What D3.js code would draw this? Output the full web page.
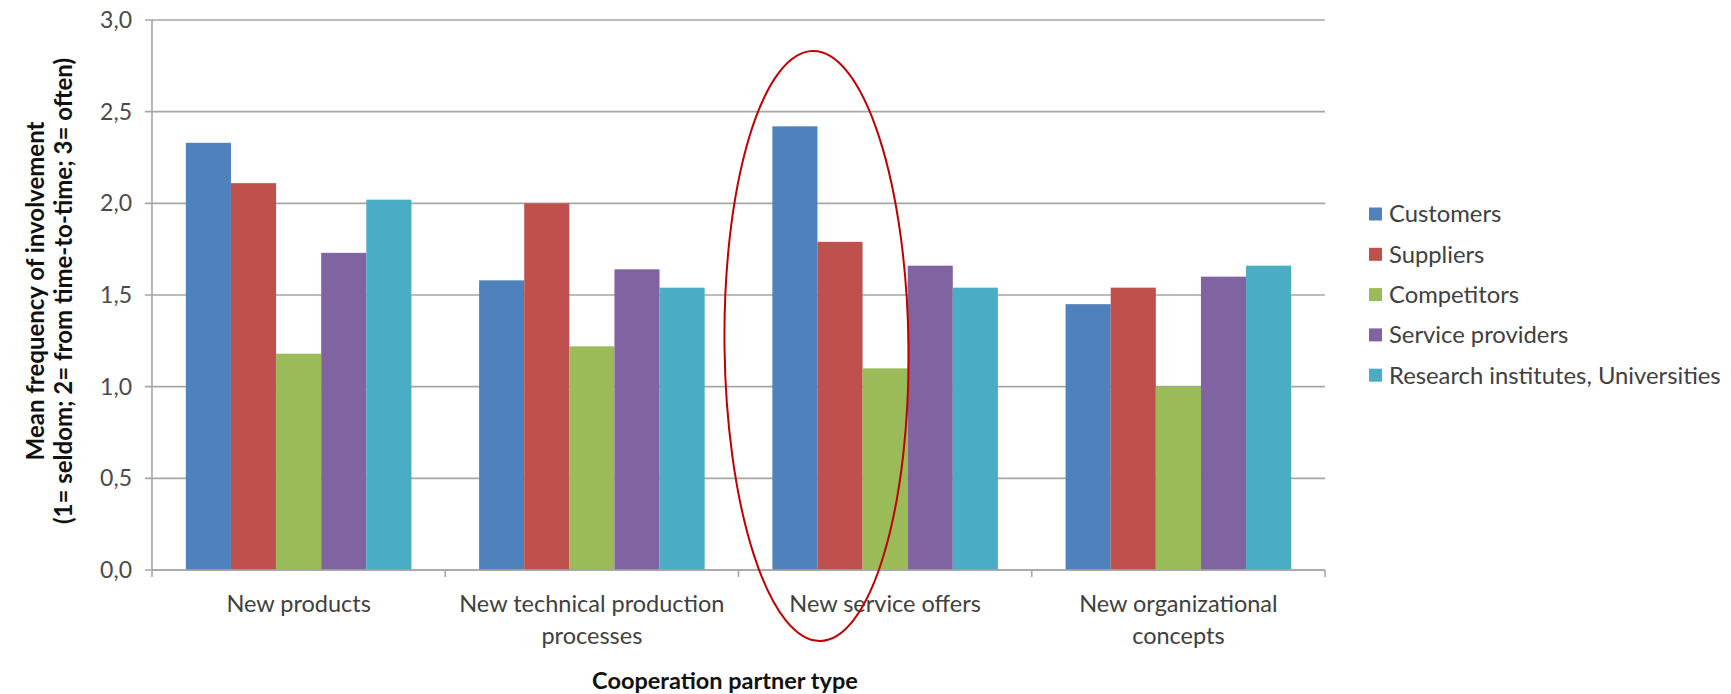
<!DOCTYPE html>
<html><head><meta charset="utf-8">
<script src="https://cdn.jsdelivr.net/npm/d3@7"></script>
<style>body{margin:0;background:#fff}svg{display:block}text{font-family:Lato,"Open Sans",sans-serif}</style>
</head><body>
<svg id="c" width="1731" height="694"></svg>
<script>
const categories = [["New products"], ["New technical production", "processes"], ["New service offers"], ["New organizational", "concepts"]];
const seriesNames = ["Customers", "Suppliers", "Competitors", "Service providers", "Research institutes, Universities"];
const customers = [2.33, 1.58, 2.42, 1.45];
const suppliers = [2.11, 2.00, 1.79, 1.54];
const competitors = [1.18, 1.22, 1.10, 1.00];
const serviceProviders = [1.73, 1.64, 1.66, 1.60];
const research = [2.02, 1.54, 1.54, 1.66];
const yTicks = [0, 0.5, 1.0, 1.5, 2.0, 2.5, 3.0];
const colors = ["#4F81BD", "#C0504D", "#9BBB59", "#8064A2", "#4BACC6"];
const values = [customers, suppliers, competitors, serviceProviders, research];

const svg = d3.select("#c");
const L = 152, R = 1325, T = 20, B = 570;
const catKeys = categories.map((c, i) => i);
const x = d3.scaleBand().domain(catKeys).range([L, R]).padding(0);
const xs = d3.scaleBand().domain(seriesNames).range([0, x.bandwidth()]).paddingInner(0).paddingOuter(0.75);
const y = d3.scaleLinear().domain([0, 3]).range([B, T]);
const fmt = v => d3.format(".1f")(v).replace(".", ",");

// gridlines
svg.append("g").selectAll("line").data(yTicks).join("line")
  .attr("x1", L - 7).attr("x2", R).attr("y1", d => y(d)).attr("y2", d => y(d))
  .attr("stroke", "#a6a6a6").attr("stroke-width", 1.6);
// y axis line
svg.append("line").attr("x1", L).attr("x2", L).attr("y1", T).attr("y2", B)
  .attr("stroke", "#a6a6a6").attr("stroke-width", 1.6);
// y tick labels
svg.append("g").selectAll("text").data(yTicks).join("text")
  .attr("x", L - 20).attr("y", d => y(d)).attr("dy", "0.35em").attr("text-anchor", "end")
  .attr("font-size", 23).attr("fill", "#4a4a4a").text(fmt);

// bars
values.forEach((vals, si) => {
  svg.append("g").selectAll("rect").data(vals).join("rect")
    .attr("x", (d, i) => x(i) + xs(seriesNames[si]))
    .attr("width", xs.bandwidth())
    .attr("y", d => y(d)).attr("height", d => y(0) - y(d))
    .attr("fill", colors[si]);
});

// x axis
svg.append("line").attr("x1", L).attr("x2", R).attr("y1", B).attr("y2", B)
  .attr("stroke", "#a6a6a6").attr("stroke-width", 1.6);
const bounds = catKeys.map(i => x(i)).concat([R]);
svg.append("g").selectAll("line").data(bounds).join("line")
  .attr("x1", d => d).attr("x2", d => d).attr("y1", B).attr("y2", B + 7)
  .attr("stroke", "#a6a6a6").attr("stroke-width", 1.6);
// x labels
const xl = svg.append("g").selectAll("text").data(categories).join("text")
  .attr("text-anchor", "middle").attr("font-size", 23.5).attr("fill", "#404040")
  .attr("transform", (d, i) => `translate(${x(i) + x.bandwidth() / 2},${B + 42})`);
xl.selectAll("tspan").data(d => d).join("tspan").attr("x", 0).attr("dy", (d, j) => j ? 32 : 0).text(d => d);

// axis titles
svg.append("text").attr("x", 725).attr("y", 689).attr("text-anchor", "middle")
  .attr("font-size", 23.5).attr("font-weight", "bold").attr("fill", "#111").text("Cooperation partner type");
const yt = svg.append("text").attr("transform", `translate(44,291) rotate(-90)`)
  .attr("text-anchor", "middle").attr("font-size", 24).attr("font-weight", "bold").attr("fill", "#111");
yt.append("tspan").attr("x", 0).attr("dy", 0).text("Mean frequency of involvement");
yt.append("tspan").attr("x", 0).attr("dy", 28).text("(1= seldom; 2= from time-to-time; 3= often)");

// legend
const lg = svg.append("g").selectAll("g").data(seriesNames).join("g")
  .attr("transform", (d, i) => `translate(1369,${214 + i * 40.3})`);
lg.append("rect").attr("x", 0).attr("y", -6.5).attr("width", 13).attr("height", 13).attr("fill", (d, i) => colors[i]);
lg.append("text").attr("x", 20).attr("dy", "0.35em").attr("font-size", 23.8).attr("fill", "#404040").text(d => d);

// red ellipse highlight
svg.append("ellipse").attr("cx", 0).attr("cy", 0).attr("rx", 92).attr("ry", 295)
  .attr("transform", `translate(${x(2) + 78},346) rotate(-0.7)`)
  .attr("fill", "none").attr("stroke", "#c00000").attr("stroke-width", 2);
</script>
</body></html>
